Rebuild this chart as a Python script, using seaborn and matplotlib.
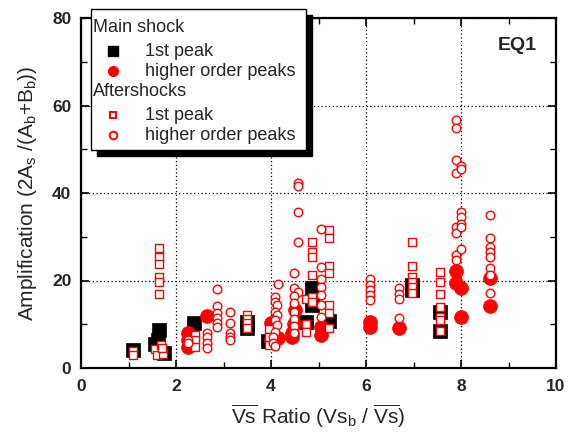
import matplotlib
matplotlib.use("Agg")
import matplotlib.pyplot as plt
from matplotlib.patches import Rectangle
from matplotlib.lines import Line2D
import seaborn as sns
import pandas as pd

# ---------------- data ----------------
main_1st_x = [1.10, 1.65, 1.62, 1.55, 1.74, 2.37, 3.50, 3.50, 3.93, 4.87, 4.87, 4.73, 5.23, 6.97, 6.97, 7.56, 7.56]
main_1st_y = [4.2, 8.7, 6.4, 5.5, 3.5, 10.3, 10.5, 9.2, 6.2, 18.3, 14.3, 10.6, 10.8, 19.0, 17.8, 12.8, 8.5]

main_high_x = [2.25, 2.25, 2.25, 2.65, 4.00, 4.03, 4.14, 4.00, 4.50, 4.48, 4.45, 4.45,
               5.06, 5.06, 6.09, 6.09, 6.70, 7.90, 7.90, 8.00, 8.00, 8.61, 8.61]
main_high_y = [8.0, 6.4, 4.9, 11.9, 10.3, 8.7, 6.9, 6.4, 13.3, 10.0, 8.0, 7.2,
               9.4, 7.5, 10.5, 9.3, 9.1, 22.2, 19.4, 18.3, 11.7, 20.6, 14.2]

after_1st_x = ([1.10, 1.10] +
               [1.65] * 6 + [1.55, 1.68, 1.60, 1.72, 1.70] +
               [2.40] * 3 + [3.50] * 4 + [3.95] * 3 + [4.73] * 3 +
               [4.87] * 6 + [5.23] * 7 + [6.97] * 6 + [7.56] * 7)
after_1st_y = ([3.8, 3.0] +
               [27.4, 25.4, 23.8, 20.8, 19.7, 16.9] + [4.3, 5.3, 3.0, 3.2, 4.6] +
               [7.5, 6.4, 4.7] + [12.1, 11.2, 10.3, 9.1] + [8.9, 7.1, 5.3] + [15.8, 10.0, 8.2] +
               [28.8, 26.5, 25.4, 21.3, 16.2, 15.1] +
               [31.5, 29.7, 23.3, 21.7, 14.4, 12.6, 9.1] +
               [28.8, 23.3, 20.8, 19.7, 18.5, 17.1] +
               [21.9, 19.7, 16.9, 13.9, 11.7, 11.0, 8.5])

after_high_x = ([2.25, 2.25] + [2.65] * 4 + [2.86] * 6 + [3.13] * 5 +
                [4.14, 4.08, 4.08, 4.12, 4.08, 4.13, 4.08, 4.13, 4.08, 4.05, 4.05, 4.08] +
                [4.56, 4.56, 4.56, 4.56, 4.48, 4.48, 4.56, 4.48, 4.48, 4.48, 4.48, 4.48, 4.48] +
                [5.06] * 7 + [6.09] * 5 + [6.70] * 4 + [7.90] * 8 + [8.00] * 7 + [8.61] * 8)
after_high_y = ([6.4, 5.7] + [8.0, 7.1, 5.7, 4.6] + [18.0, 14.2, 12.6, 11.4, 10.3, 9.4] +
                [12.8, 10.3, 8.0, 7.1, 6.4] +
                [19.2, 16.2, 15.0, 14.4, 12.8, 12.1, 11.0, 9.8, 8.2, 7.1, 5.7, 5.0] +
                [42.3, 41.5, 35.7, 28.8, 21.7, 18.3, 17.4, 16.5, 14.9, 12.8, 11.2, 9.6, 8.0] +
                [31.8, 23.0, 20.3, 18.5, 16.6, 14.5, 11.7] +
                [20.3, 19.0, 17.8, 16.7, 15.5] +
                [18.3, 16.9, 15.8, 11.4] +
                [56.7, 54.8, 47.5, 44.6, 32.2, 30.9, 25.8, 24.8] +
                [46.2, 45.5, 35.7, 34.5, 32.9, 32.2, 27.2] +
                [35.0, 29.7, 27.7, 26.5, 25.4, 22.9, 21.3, 17.1])

x_ticks = [0, 2, 4, 6, 8, 10]
y_ticks = [0, 20, 40, 60, 80]

# ---------------- style ----------------
sns.set_style("ticks")
plt.rcParams["font.family"] = ["Liberation Sans", "DejaVu Sans"]
plt.rcParams["mathtext.fontset"] = "custom"
plt.rcParams["mathtext.rm"] = "Liberation Sans"
plt.rcParams["mathtext.it"] = "Liberation Sans:italic"
plt.rcParams["mathtext.bf"] = "Liberation Sans:bold"

W, H = 579, 434
fig = plt.figure(figsize=(W / 100, H / 100), dpi=100)
fig.patch.set_facecolor("white")

def fx(px):
    return px / W

def fy(py):
    return 1 - py / H

ax = fig.add_axes([fx(81), fy(368), fx(556) - fx(81), fy(18) - fy(368)])
ax.set_facecolor("white")

RED = "#ff0000"
df1 = pd.DataFrame({"x": main_1st_x, "y": main_1st_y})
df2 = pd.DataFrame({"x": main_high_x, "y": main_high_y})
df3 = pd.DataFrame({"x": after_1st_x, "y": after_1st_y})
df4 = pd.DataFrame({"x": after_high_x, "y": after_high_y})

sns.scatterplot(data=df1, x="x", y="y", marker="s", s=88, color="black",
                edgecolor="black", linewidth=0.5, ax=ax, zorder=3)
sns.scatterplot(data=df2, x="x", y="y", marker="o", s=100, color=RED,
                edgecolor=RED, linewidth=0.5, ax=ax, zorder=4)
sns.scatterplot(data=df3, x="x", y="y", marker="s", s=28, facecolor="white",
                edgecolor=RED, linewidth=1.0, ax=ax, zorder=5)
sns.scatterplot(data=df4, x="x", y="y", marker="o", s=38, facecolor="white",
                edgecolor=RED, linewidth=1.0, ax=ax, zorder=6)

ax.set_xlim(0, 10)
ax.set_ylim(0, 80)
ax.set_xticks(x_ticks)
ax.set_yticks(y_ticks)
ax.set_xticks([1, 3, 5, 7, 9], minor=True)
ax.set_yticks([10, 30, 50, 70], minor=True)
ax.set_xticklabels([str(t) for t in x_ticks], fontweight="bold", fontsize=12.5)
ax.set_yticklabels([str(t) for t in y_ticks], fontweight="bold", fontsize=12.5)
ax.tick_params(which="major", direction="in", length=6, width=1.2,
               top=True, right=True, color="black")
ax.tick_params(which="minor", direction="in", length=4, width=1.0,
               top=True, right=True, color="black")
ax.tick_params(axis="x", which="major", pad=8)
ax.tick_params(axis="y", which="major", pad=7)
for sp in ax.spines.values():
    sp.set_visible(True)
    sp.set_linewidth(1.6)
    sp.set_color("black")

ax.grid(True, which="major", color="black", linestyle=(0, (1, 2)), linewidth=0.9)
ax.set_axisbelow(True)

ax.set_xlabel(r"$\overline{\mathrm{Vs}}$ Ratio (Vs$_\mathrm{b}$ / $\overline{\mathrm{Vs}}$)",
              fontsize=15, labelpad=6)
ax.set_ylabel(r"Amplification (2A$_\mathrm{s}$ /(A$_\mathrm{b}$+B$_\mathrm{b}$))",
              fontsize=15, labelpad=9)

fig.text(fx(517), fy(45), "EQ1", fontsize=14, fontweight="bold",
         ha="center", va="center")

# ---------------- legend (drawn manually) ----------------
L, T, R, B = 91, 9, 306, 150
off = 6
fig.add_artist(Rectangle((fx(L + off), fy(B + off)), fx(R) - fx(L), fy(T) - fy(B),
                         transform=fig.transFigure, facecolor="black",
                         edgecolor="black", zorder=10))
fig.add_artist(Rectangle((fx(L), fy(B)), fx(R) - fx(L), fy(T) - fy(B),
                         transform=fig.transFigure, facecolor="white",
                         edgecolor="black", linewidth=1.0, zorder=11))

rows = [
    (28, "Main shock", None),
    (51, "1st peak", dict(marker="s", markersize=6.5, markerfacecolor="black", markeredgecolor="black")),
    (71, "higher order peaks", dict(marker="o", markersize=7, markerfacecolor=RED, markeredgecolor=RED)),
    (92, "Aftershocks", None),
    (115, "1st peak", dict(marker="s", markersize=5, markerfacecolor="white", markeredgecolor=RED, markeredgewidth=1.4)),
    (135, "higher order peaks", dict(marker="o", markersize=5.5, markerfacecolor="white", markeredgecolor=RED, markeredgewidth=1.4)),
]
for py, label, mk in rows:
    if mk is None:
        fig.text(fx(93), fy(py), label, fontsize=13, ha="left", va="center", zorder=12)
    else:
        fig.add_artist(Line2D([fx(113)], [fy(py)], transform=fig.transFigure,
                              linestyle="none", zorder=12, **mk))
        fig.text(fx(145), fy(py), label, fontsize=13, ha="left", va="center", zorder=12)

fig.savefig("out.png", dpi=100, facecolor="white")
